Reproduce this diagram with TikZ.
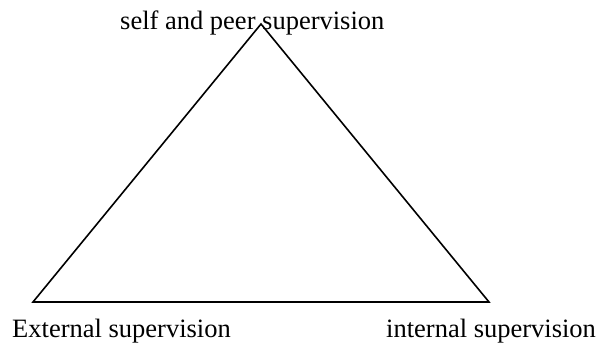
\documentclass[tikz,border=0pt]{standalone}
\usepackage{fontspec}
\setmainfont{Liberation Serif}
\begin{document}
\begin{tikzpicture}[x=1pt,y=1pt,
  lbl/.style={anchor=base west,inner sep=0pt,font=\fontsize{26.5}{30}\selectfont},
  edge/.style={line width=1.6pt,line join=miter}]
\useasboundingbox (0,0) rectangle (597,-343);
\coordinate (apex) at (261,-24);
\coordinate (bl) at (33,-302);
\coordinate (br) at (489,-302);
\draw[edge] (apex) -- (bl) -- (br) -- cycle;
\node[lbl] (selfpeer) at (120,-29) {self and peer supervision};
\node[lbl] (external) at (12,-337) {External supervision};
\node[lbl] (internal) at (386,-337) {internal supervision};
\end{tikzpicture}
\end{document}
